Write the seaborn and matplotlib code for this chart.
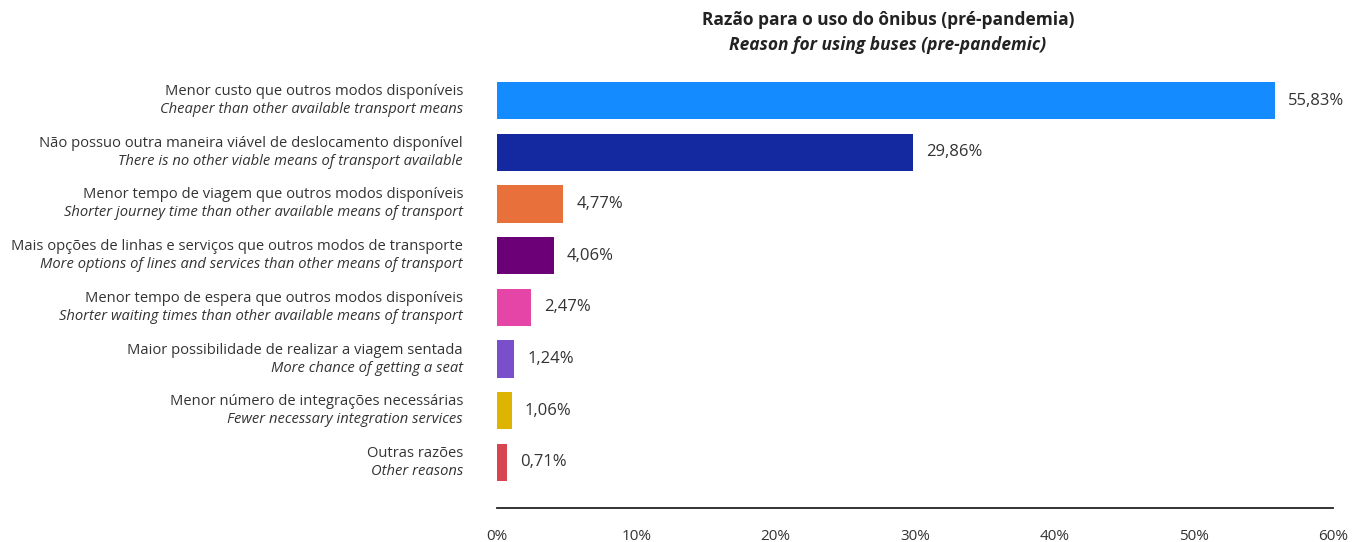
import matplotlib
matplotlib.use("Agg")
import matplotlib.pyplot as plt
import matplotlib.transforms as mtransforms
import seaborn as sns
import pandas as pd

labels_pt = [
    "Menor custo que outros modos disponíveis",
    "Não possuo outra maneira viável de deslocamento disponível",
    "Menor tempo de viagem que outros modos disponíveis",
    "Mais opções de linhas e serviços que outros modos de transporte",
    "Menor tempo de espera que outros modos disponíveis",
    "Maior possibilidade de realizar a viagem sentada",
    "Menor número de integrações necessárias",
    "Outras razões",
]
labels_en = [
    "Cheaper than other available transport means",
    "There is no other viable means of transport available",
    "Shorter journey time than other available means of transport",
    "More options of lines and services than other means of transport",
    "Shorter waiting times than other available means of transport",
    "More chance of getting a seat",
    "Fewer necessary integration services",
    "Other reasons",
]
values = [55.83, 29.86, 4.77, 4.06, 2.47, 1.24, 1.06, 0.71]
colors = ["#148CFF", "#1428A0", "#E8703A", "#6B0077", "#E645A8", "#7A4FCB", "#DDB400", "#D64550"]
xticks = [0, 10, 20, 30, 40, 50, 60]

sns.set_theme(style="white")
plt.rcParams["font.family"] = ["Open Sans", "DejaVu Sans"]
TXT = "#333333"

df = pd.DataFrame({"cat": labels_pt, "val": values})

fig = plt.figure(figsize=(13.63, 5.42), dpi=100)
W, H = 1363, 542
ax = fig.add_axes([497 / W, 1 - 508 / H, (1333 - 497) / W, (508 - 54) / H])

sns.barplot(data=df, y="cat", x="val", hue="cat", palette=colors, order=labels_pt,
            hue_order=labels_pt, legend=False, orient="h", width=0.72, ax=ax,
            saturation=1, linewidth=0)

ax.set_xlim(0, 60)
ax.set_ylim(7.88, -0.9)
ax.set_xticks(xticks)
ax.set_xticklabels([f"{t}%" for t in xticks], fontsize=11, color=TXT)
ax.tick_params(axis="x", length=0, pad=15)
ax.set_yticks([])
ax.set_xlabel("")
ax.set_ylabel("")
for s in ["top", "right", "left"]:
    ax.spines[s].set_visible(False)
ax.spines["bottom"].set_color("#222222")
ax.spines["bottom"].set_linewidth(1.3)

trans = mtransforms.blended_transform_factory(ax.transAxes, ax.transData)
for i, (pt, en, v) in enumerate(zip(labels_pt, labels_en, values)):
    off_l = mtransforms.offset_copy(trans, fig=fig, x=-34, y=9, units="dots")
    off_e = mtransforms.offset_copy(trans, fig=fig, x=-34, y=-9, units="dots")
    ax.text(0, i, pt, transform=off_l, ha="right", va="center", fontsize=10.6, color=TXT)
    ax.text(0, i, en, transform=off_e, ha="right", va="center", fontsize=10.6,
            color=TXT, style="italic")
    off_v = mtransforms.offset_copy(ax.transData, fig=fig, x=13, y=0, units="dots")
    ax.text(v, i, f"{v:.2f}%".replace(".", ","), transform=off_v, ha="left",
            va="center", fontsize=12, color=TXT)

fig.text(888 / W, 1 - 20 / H, "Razão para o uso do ônibus (pré-pandemia)", ha="center",
         va="center", fontsize=12.5, fontweight="bold", color="#222222")
fig.text(888 / W, 1 - 45 / H, "Reason for using buses (pre-pandemic)", ha="center",
         va="center", fontsize=12.5, fontweight="bold", style="italic", color="#222222")

fig.savefig("out.png", dpi=100, facecolor="white")
